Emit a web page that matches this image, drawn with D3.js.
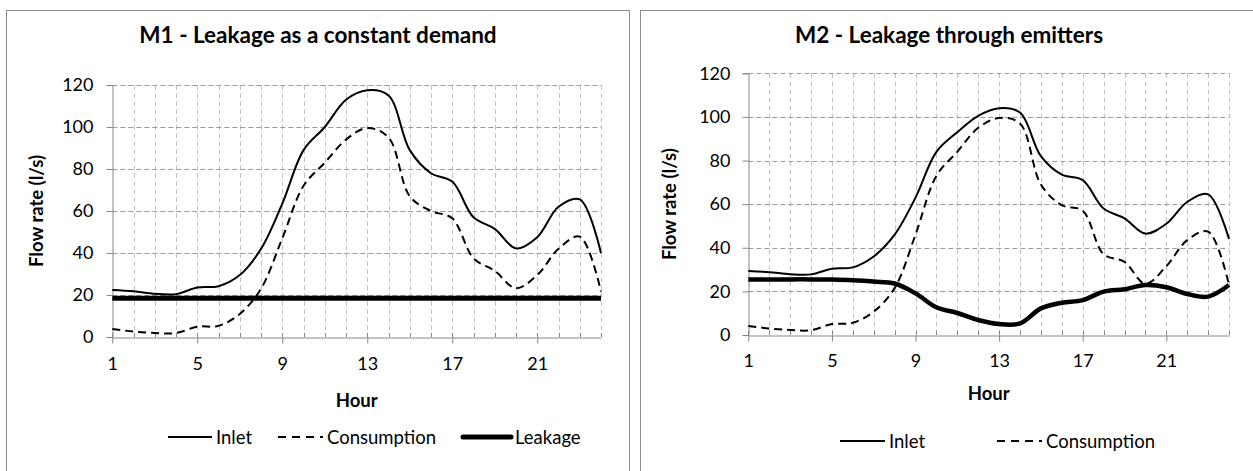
<!DOCTYPE html>
<html>
<head>
<meta charset="utf-8">
<script src="https://cdn.jsdelivr.net/npm/d3@7"></script>
<style>
  html, body { margin: 0; padding: 0; background: #fff; }
  svg { display: block; }
  text { font-family: Lato, "Open Sans", sans-serif; fill: #000; }
</style>
</head>
<body>
<svg id="chart" width="1253" height="471"></svg>
<script>
// ---------------- data ----------------
const hours = [1,2,3,4,5,6,7,8,9,10,11,12,13,14,15,16,17,18,19,20,21,22,23,24];
const xTickLabels = [1,5,9,13,17,21];
const yTickValues = [0,20,40,60,80,100,120];

const m1Inlet       = [22.4,21.8,20.6,20.4,23.6,24.2,29.5,42,63.5,89,100,113,117.5,115,89,78,74,57,51.5,42.2,47.5,62,65.5,40];
const m1Consumption = [3.8,2.6,1.9,1.9,4.9,5.3,11,23,47,72,83,94,99.5,95,67,60,56.5,37.5,31.5,23.2,29.5,42,47.8,21.6];
const m1Leakage     = [18.5,18.5,18.5,18.5,18.5,18.5,18.5,18.5,18.5,18.5,18.5,18.5,18.5,18.5,18.5,18.5,18.5,18.5,18.5,18.5,18.5,18.5,18.5,18.5];

const m2Inlet       = [29.3,28.8,27.9,27.8,30.4,31,36,46,63,84,93,100.5,104,102,82,73.5,71,58,53.5,46.5,51,61,64.5,44];
const m2Consumption = [4.1,3,2.3,2.2,5,5.6,10.7,21.5,46,73,84,95,99.5,97,69,59.5,57,37,33.5,23.5,31.5,43.5,47.4,23];
const m2Leakage     = [25.5,25.5,25.5,25.5,25.4,25.1,24.5,23.6,19.1,12.7,10.1,6.9,5,5.3,12.2,14.8,16,19.9,21,22.9,21.9,18.8,17.6,22.9];

const seriesNames = ["Inlet", "Consumption", "Leakage"];

// ---------------- drawing ----------------
const svg = d3.select("#chart");
const FONT = 'Lato, "Open Sans", sans-serif';

function drawChart(cfg) {
  const g = svg.append("g");

  // outer chart border
  g.append("rect")
    .attr("x", cfg.box[0] + 0.5).attr("y", cfg.box[1] + 0.5)
    .attr("width", cfg.box[2] - cfg.box[0]).attr("height", cfg.box[3] - cfg.box[1])
    .attr("fill", "#fff").attr("stroke", "#8c8c8c").attr("stroke-width", 1);

  const x = d3.scalePoint().domain(hours).range([cfg.plot.left, cfg.plot.right]);
  const y = d3.scaleLinear().domain([0, 120]).range([cfg.plot.bottom, cfg.plot.top]);

  // vertical gridlines (every hour)
  g.append("g").selectAll("line").data(hours.slice(1)).join("line")
    .attr("x1", d => Math.round(x(d)) + 0.5).attr("x2", d => Math.round(x(d)) + 0.5)
    .attr("y1", y(120)).attr("y2", y(0))
    .attr("stroke", "#c4c4c4").attr("stroke-width", 1).attr("stroke-dasharray", "5,3");

  // horizontal gridlines
  g.append("g").selectAll("line").data(yTickValues.slice(1)).join("line")
    .attr("x1", cfg.plot.left).attr("x2", cfg.plot.right)
    .attr("y1", d => Math.round(y(d)) + 0.5).attr("y2", d => Math.round(y(d)) + 0.5)
    .attr("stroke", "#9a9a9a").attr("stroke-width", 1).attr("stroke-dasharray", "5,3");

  // y axis
  const yAxis = d3.axisLeft(y).tickValues(yTickValues).tickSize(6).tickPadding(cfg.yPad);
  const ya = g.append("g").attr("transform", `translate(${Math.round(cfg.plot.left) + 0.5},0)`).call(yAxis);
  ya.select(".domain").attr("stroke", "#868686");
  ya.selectAll(".tick line").attr("stroke", "#868686");
  ya.selectAll(".tick text").style("font-family", FONT).style("font-size", "18px").attr("fill", "#000");

  // x axis
  const xAxis = d3.axisBottom(x).tickValues(xTickLabels).tickSize(6).tickPadding(cfg.xPad).tickSizeOuter(0);
  const xa = g.append("g").attr("transform", `translate(0,${Math.round(cfg.plot.bottom) + 0.5})`).call(xAxis);
  xa.select(".domain").attr("stroke", "#868686");
  xa.selectAll(".tick line").attr("stroke", "#868686");
  xa.selectAll(".tick text").style("font-family", FONT).style("font-size", "18px").attr("fill", "#000");

  // small minor ticks every hour (inside)
  g.append("g").selectAll("line").data(hours).join("line")
    .attr("x1", d => Math.round(x(d)) + 0.5).attr("x2", d => Math.round(x(d)) + 0.5)
    .attr("y1", y(0) - 4).attr("y2", y(0))
    .attr("stroke", "#868686");

  // titles
  g.append("text").attr("x", cfg.titleX).attr("y", 43).attr("text-anchor", "middle")
    .style("font-weight", "bold").style("font-size", "22.5px").text(cfg.title);
  g.append("text").attr("x", (cfg.plot.left + cfg.plot.right) / 2).attr("y", cfg.hourY).attr("text-anchor", "middle")
    .style("font-weight", "bold").style("font-size", "18.5px").text("Hour");
  g.append("text").attr("transform", `translate(${cfg.yTitleX},${(cfg.plot.top + cfg.plot.bottom) / 2}) rotate(-90)`)
    .attr("text-anchor", "middle").style("font-weight", "bold").style("font-size", "18.5px").text("Flow rate (l/s)");

  // series lines
  const line = d3.line().x((d, i) => x(hours[i])).y(d => y(d)).curve(d3.curveCatmullRom.alpha(0.5));
  const styles = {
    Inlet: { w: 2, dash: null },
    Consumption: { w: 2, dash: "8,5" },
    Leakage: { w: cfg.leakW, dash: null }
  };
  cfg.series.forEach(s => {
    g.append("path").datum(s.values).attr("d", line).attr("fill", "none")
      .attr("stroke", "#000").attr("stroke-width", styles[s.name].w)
      .attr("stroke-dasharray", styles[s.name].dash)
      .attr("stroke-linejoin", "round");
  });

  // legend
  cfg.legend.forEach(L => {
    g.append("line").attr("x1", L.x1).attr("x2", L.x2).attr("y1", cfg.legendY).attr("y2", cfg.legendY)
      .attr("stroke", "#000").attr("stroke-width", styles[L.name].w)
      .attr("stroke-dasharray", styles[L.name].dash ? "8,6" : null)
      .attr("stroke-linecap", L.name === "Leakage" ? "round" : "butt");
    g.append("text").attr("x", L.x2 + 4).attr("y", cfg.legendY + 6.5)
      .style("font-size", "18.5px").text(L.name);
  });
}

drawChart({
  box: [6, 10, 629, 500],
  plot: { left: 112.3, right: 601, top: 85, bottom: 337 },
  title: "M1 - Leakage as a constant demand",
  titleX: 318,
  hourY: 407,
  yTitleX: 43,
  yPad: 13,
  xPad: 14,
  legendY: 437,
  leakW: 5,
  series: [
    { name: "Leakage", values: m1Leakage },
    { name: "Consumption", values: m1Consumption },
    { name: "Inlet", values: m1Inlet }
  ],
  legend: [
    { name: seriesNames[0], x1: 168, x2: 212 },
    { name: seriesNames[1], x1: 278, x2: 323 },
    { name: seriesNames[2], x1: 463, x2: 511 }
  ]
});

drawChart({
  box: [640, 10, 1258, 500],
  plot: { left: 748.3, right: 1229, top: 73.3, bottom: 335 },
  title: "M2 - Leakage through emitters",
  titleX: 949,
  hourY: 400,
  yTitleX: 676,
  yPad: 12,
  xPad: 13,
  legendY: 441,
  leakW: 4.5,
  series: [
    { name: "Leakage", values: m2Leakage },
    { name: "Consumption", values: m2Consumption },
    { name: "Inlet", values: m2Inlet }
  ],
  legend: [
    { name: seriesNames[0], x1: 840, x2: 885 },
    { name: seriesNames[1], x1: 997, x2: 1042 }
  ]
});
</script>
</body>
</html>
